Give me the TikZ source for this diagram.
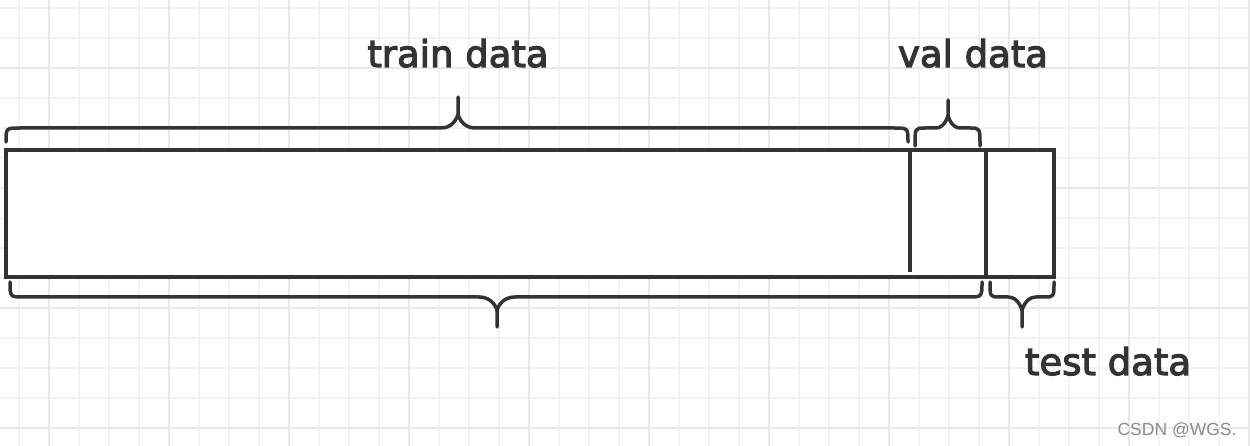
\documentclass[tikz,border=0pt]{standalone}
\usepackage{fontspec}
\setmainfont{DejaVu Sans}
\newfontfamily\labelfont[FakeBold=3]{DejaVu Sans}
\newfontfamily\wmfont{Liberation Sans}
\definecolor{ink}{HTML}{333333}
\definecolor{gridminor}{HTML}{F3F3F3}
\definecolor{gridmajor}{HTML}{E9E9E9}
\definecolor{wm}{HTML}{8A8A8A}
\tikzset{
  box/.style={draw=ink, line width=3.5pt},
  brace/.style={draw=ink, line width=3.5pt, line cap=round, line join=round},
  label/.style={text=ink, font=\labelfont\fontsize{37}{40}\selectfont, anchor=base, inner sep=0pt},
}
% brace with tip: x1,x2,ye,yl,r,xt,w,ytip
\newcommand{\bracepath}[8]{%
  \draw[brace] (#1,#3) .. controls (#1,#4) .. (#1+#5,#4) -- (#6-#7,#4)
    .. controls (#6-3,#4) and (#6,#4+0.45*#8-0.45*#4) .. (#6,#4+0.45*#8-0.45*#4) -- (#6,#8);
  \draw[brace] (#2,#3) .. controls (#2,#4) .. (#2-#5,#4) -- (#6+#7,#4)
    .. controls (#6+3,#4) and (#6,#4+0.45*#8-0.45*#4) .. (#6,#4+0.45*#8-0.45*#4);
}
\begin{document}
\begin{tikzpicture}[x=1pt,y=-1pt]
\useasboundingbox (0,0) rectangle (1250,446);
\fill[white] (0,0) rectangle (1250,446);
% grid
\foreach \i in {0,...,41} {
  \draw[gridminor, line width=2pt] (19+30*\i,0) -- (19+30*\i,446);
}
\foreach \j in {0,...,14} {
  \draw[gridminor, line width=2pt] (0,8+30*\j) -- (1250,8+30*\j);
}
\foreach \i in {0,...,10} {
  \draw[gridmajor, line width=2pt] (49+120*\i,0) -- (49+120*\i,446);
}
\foreach \j in {0,...,3} {
  \draw[gridmajor, line width=2pt] (0,68+120*\j) -- (1250,68+120*\j);
}
% main bar
\draw[box, fill=white] (6,150) rectangle (1054,277);
\draw[box] (910,150) -- (910,272);
\draw[box] (986,150) -- (986,277);
% braces
\bracepath{6}{908}{142}{128}{14}{458}{17}{97}
\bracepath{915}{980}{146}{128}{10}{948}{12}{100}
\bracepath{10}{982}{282}{297}{14}{497}{18}{327}
\bracepath{990}{1054}{282}{297}{10}{1022}{14}{327}
% labels
\node[label] (train) at (458,67) {train data};
\node[label] (val) at (973,67) {val data};
\node[label] (test) at (1108,375) {test data};
\node[text=wm, font=\wmfont\fontsize{17.5}{20}\selectfont, anchor=base, inner sep=0pt] (mark) at (1177,435) {CSDN @WGS.};
\end{tikzpicture}
\end{document}
